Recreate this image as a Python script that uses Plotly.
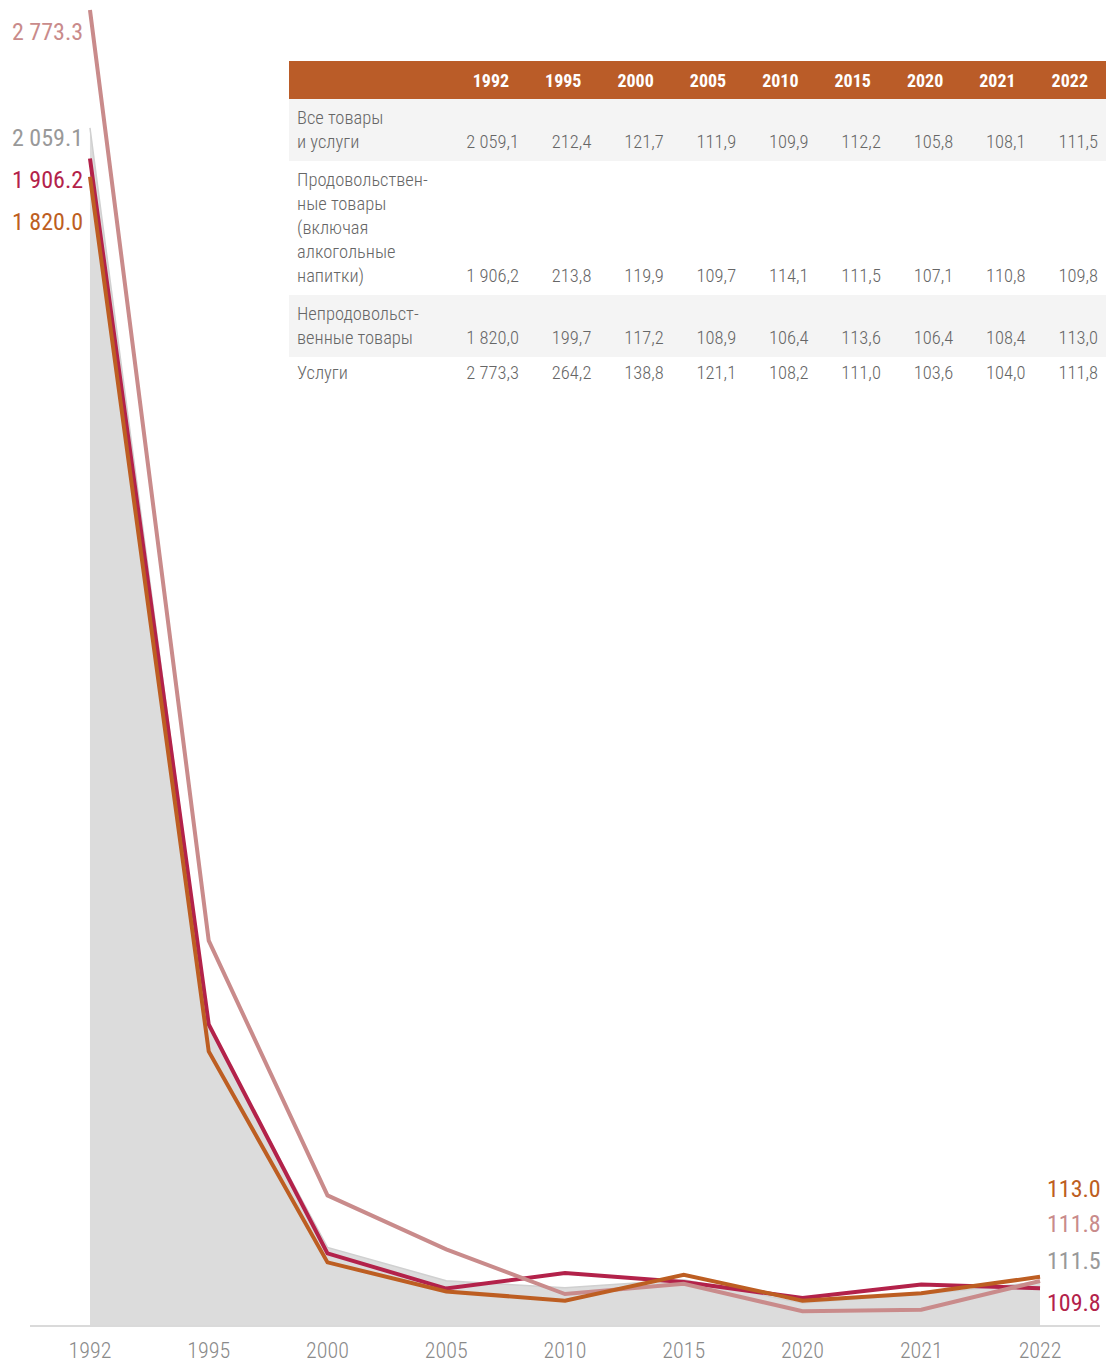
import plotly.graph_objects as go

years = ["1992", "1995", "2000", "2005", "2010", "2015", "2020", "2021", "2022"]
all_goods = [2059.1, 212.4, 121.7, 111.9, 109.9, 112.2, 105.8, 108.1, 111.5]
food = [1906.2, 213.8, 119.9, 109.7, 114.1, 111.5, 107.1, 110.8, 109.8]
nonfood = [1820.0, 199.7, 117.2, 108.9, 106.4, 113.6, 106.4, 108.4, 113.0]
services = [2773.3, 264.2, 138.8, 121.1, 108.2, 111.0, 103.6, 104.0, 111.8]

row_labels = [
    "Все товары<br>и услуги",
    "Продовольствен-<br>ные товары<br>(включая<br>алкогольные<br>напитки)",
    "Непродовольст-<br>венные товары",
    "Услуги",
]

C_ALL_FILL = "#dcdcdc"
C_ALL_TXT = "#999999"
C_FOOD = "#b3224a"
C_NONFOOD = "#bd5e22"
C_SERV = "#c98b8b"
C_HEAD = "#ba5c28"
FONT = "Roboto Condensed, DejaVu Sans Condensed, sans-serif"

W, H = 1106, 1363

def fmt_table(v):
    return f"{v:,.1f}".replace(",", "\u00a0").replace(".", ",")

def fmt_label(v):
    return f"{v:,.1f}".replace(",", "\u00a0")

fig = go.Figure()

fig.add_trace(go.Scatter(x=years, y=all_goods, mode="lines", fill="tozeroy",
                         fillcolor=C_ALL_FILL, line=dict(color="#d0d0d0", width=1.5),
                         showlegend=False, hoverinfo="skip"))
fig.add_trace(go.Scatter(x=years, y=food, mode="lines",
                         line=dict(color=C_FOOD, width=4), showlegend=False))
fig.add_trace(go.Scatter(x=years, y=services, mode="lines",
                         line=dict(color=C_SERV, width=4), showlegend=False))
fig.add_trace(go.Scatter(x=years, y=nonfood, mode="lines",
                         line=dict(color=C_NONFOOD, width=4), showlegend=False))

# table
series = [all_goods, food, nonfood, services]
nlines = [lbl.count("<br>") + 1 for lbl in row_labels]
cols = [row_labels]
for j in range(len(years)):
    col = []
    for i, s in enumerate(series):
        col.append("\u00a0<br>" * (nlines[i] - 1) + fmt_table(s[j]))
    cols.append(col)
row_fill = ["#f4f4f4", "#ffffff", "#f4f4f4", "#ffffff"]

fig.add_trace(go.Table(
    domain=dict(x=[289 / W, 1.0], y=[1 - 420 / H, 1 - 62 / H]),
    columnwidth=[166] + [72.5] * len(years),
    header=dict(values=[""] + [f"<b>{y}</b>" for y in years],
                fill_color=C_HEAD, line_color=C_HEAD, height=35,
                align=["left"] + ["center"] * len(years),
                font=dict(family=FONT, size=18, color="white", weight=700)),
    cells=dict(values=cols, fill_color=[row_fill] * (len(years) + 1),
               line_color="rgba(0,0,0,0)", height=26,
               align=["left"] + ["right"] * len(years),
               font=dict(family=FONT, size=18.5, color="#666666", weight=300)),
))

# end labels
left = [(services[0], C_SERV, 31), (all_goods[0], C_ALL_TXT, 138),
        (food[0], C_FOOD, 180), (nonfood[0], C_NONFOOD, 222)]
for v, c, ypx in left:
    fig.add_annotation(x=0, xref="x", y=1 - (ypx + 1) / H, yref="paper",
                       text=fmt_label(v), showarrow=False, xanchor="right",
                       yanchor="middle", xshift=-5,
                       font=dict(family=FONT, size=24, color=c))
right = [(nonfood[-1], C_NONFOOD, 1190), (services[-1], C_SERV, 1225),
         (all_goods[-1], C_ALL_TXT, 1262), (food[-1], C_FOOD, 1305)]
for v, c, ypx in right:
    fig.add_annotation(x=1103 / W, xref="paper", y=1 - (ypx + 7) / H, yref="paper",
                       text=fmt_label(v), showarrow=False, xanchor="right",
                       yanchor="middle",
                       font=dict(family=FONT, size=24, color=c))

fig.update_layout(
    width=W, height=H, margin=dict(l=0, r=0, t=0, b=0),
    paper_bgcolor="white", plot_bgcolor="white",
    xaxis=dict(domain=[30 / W, 1100 / W], type="category", range=[-0.505, 8.505],
               showgrid=False, zeroline=False, showline=True, linecolor="#dadada",
               linewidth=1.5, ticks="", ticklabelstandoff=5,
               tickfont=dict(family=FONT, size=22, color="#8a8a8a", weight=300)),
    yaxis=dict(domain=[29 / H, 1], type="log", range=[2, 3.454], visible=False,
               showgrid=False),
    font=dict(family=FONT),
)

fig.write_html("out.html", config={"displayModeBar": False},
               post_script="document.body.style.margin='0';")
